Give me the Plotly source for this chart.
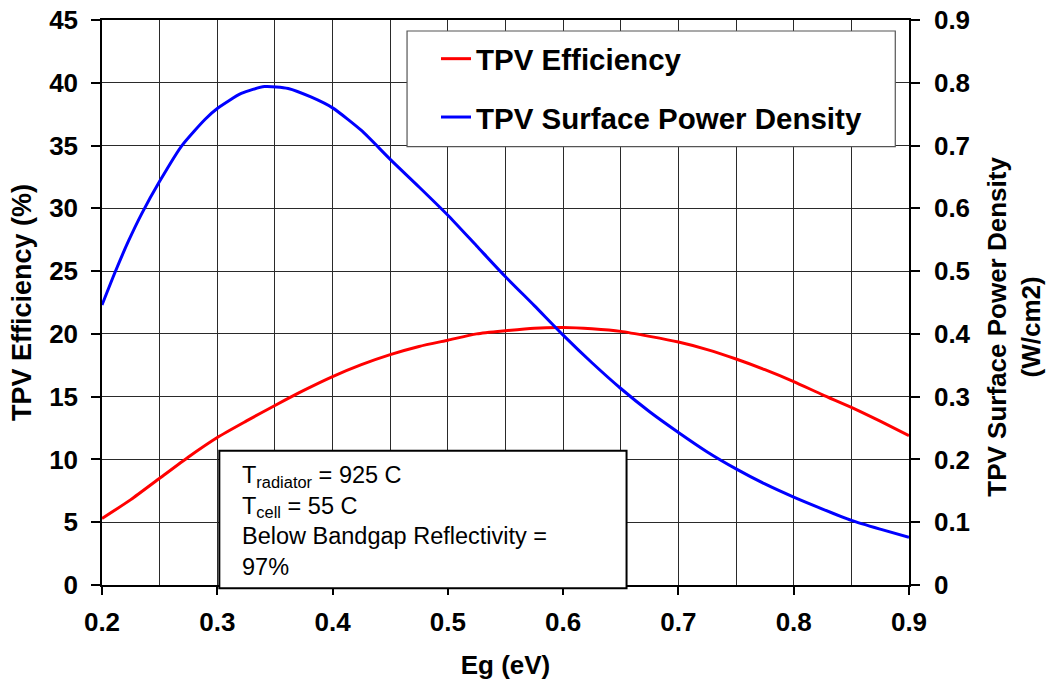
import plotly.graph_objects as go

# ---- data ----
eg = [0.2, 0.225, 0.25, 0.275, 0.3, 0.325, 0.35, 0.375, 0.4, 0.425, 0.45, 0.475,
      0.5, 0.525, 0.55, 0.575, 0.6, 0.625, 0.65, 0.675, 0.7, 0.725, 0.75, 0.775,
      0.8, 0.825, 0.85, 0.875, 0.9]
efficiency = [5.3, 6.8, 8.5, 10.2, 11.75, 13.05, 14.3, 15.5, 16.6, 17.55, 18.35, 19.0,
              19.5, 20.0, 20.25, 20.45, 20.5, 20.4, 20.2, 19.8, 19.35, 18.75, 18.0, 17.15,
              16.2, 15.15, 14.15, 13.05, 11.9]
eg_power = [0.2, 0.2115, 0.223, 0.2346, 0.25, 0.2693, 0.2895, 0.3, 0.3208, 0.341, 0.3615,
            0.3817, 0.4, 0.425, 0.45, 0.475, 0.5, 0.525, 0.55, 0.575, 0.6, 0.625, 0.65,
            0.675, 0.7, 0.725, 0.75, 0.775, 0.8, 0.825, 0.85, 0.875, 0.9]
power_density = [0.446, 0.499, 0.548, 0.592, 0.643, 0.700, 0.742, 0.759, 0.783, 0.794, 0.791,
                 0.777, 0.760, 0.724, 0.678, 0.634, 0.589, 0.540, 0.491, 0.445, 0.398, 0.354,
                 0.313, 0.276, 0.243, 0.212, 0.185, 0.161, 0.140, 0.121, 0.103, 0.089, 0.076]

x_ticks = [0.2, 0.3, 0.4, 0.5, 0.6, 0.7, 0.8, 0.9]
x_labels = ["0.2", "0.3", "0.4", "0.5", "0.6", "0.7", "0.8", "0.9"]
y1_ticks = [0, 5, 10, 15, 20, 25, 30, 35, 40, 45]
y1_labels = ["0", "5", "10", "15", "20", "25", "30", "35", "40", "45"]
y2_ticks = [0, 0.1, 0.2, 0.3, 0.4, 0.5, 0.6, 0.7, 0.8, 0.9]
y2_labels = ["0", "0.1", "0.2", "0.3", "0.4", "0.5", "0.6", "0.7", "0.8", "0.9"]

FONT = "Liberation Sans, Arial, sans-serif"
GRID = "#2a2a2a"
TICKFONT = dict(size=26, family=FONT, color="black", weight="bold")

fig = go.Figure()
fig.add_trace(go.Scatter(x=eg, y=efficiency, mode="lines", name="<b>TPV Efficiency</b>",
                         line=dict(color="#FF0000", width=3, shape="spline", smoothing=0.6),
                         legendgroup="a", yaxis="y"))
fig.add_trace(go.Scatter(x=eg_power, y=power_density, mode="lines",
                         name="<b>TPV Surface Power Density</b>",
                         line=dict(color="#0000FF", width=3, shape="spline", smoothing=0.6),
                         legendgroup="b", yaxis="y2"))

fig.update_layout(
    width=1052, height=683,
    margin=dict(l=102, r=143, t=20, b=98, autoexpand=False),
    paper_bgcolor="white", plot_bgcolor="white",
    font=dict(family=FONT, color="black"),
    showlegend=True,
    legend=dict(x=0.4139, y=0.977, xanchor="left", yanchor="top",
                bgcolor="rgba(0,0,0,0)", borderwidth=0,
                font=dict(size=29.5, family=FONT, color="black"),
                traceorder="grouped", tracegroupgap=17),
    xaxis=dict(range=[0.2, 0.9], tickvals=x_ticks, ticktext=x_labels, automargin=False,
               ticks="outside", ticklen=8, tickwidth=1.5, tickcolor="black",
               showline=True, linecolor="black", linewidth=1.5, mirror=True,
               showgrid=True, gridcolor=GRID, gridwidth=1,
               minor=dict(dtick=0.05, tick0=0.2, showgrid=True, gridcolor=GRID, gridwidth=1),
               tickfont=TICKFONT, ticklabelstandoff=5,
               title=dict(text="<b>Eg (eV)</b>", font=dict(size=26, family=FONT), standoff=20),
               zeroline=False),
    yaxis=dict(range=[0, 45], tickvals=y1_ticks, ticktext=y1_labels, automargin=False,
               ticks="outside", ticklen=9, tickwidth=1.5, tickcolor="black",
               showline=True, linecolor="black", linewidth=1.5,
               showgrid=True, gridcolor=GRID, gridwidth=1,
               tickfont=TICKFONT, ticklabelstandoff=8,
               title=dict(text="<b>TPV Efficiency (%)</b>", font=dict(size=27, family=FONT), standoff=10),
               zeroline=False),
    yaxis2=dict(range=[0, 0.9], tickvals=y2_ticks, ticktext=y2_labels, overlaying="y", side="right",
                automargin=False,
                ticks="outside", ticklen=9, tickwidth=1.5, tickcolor="black",
                showline=True, linecolor="black", linewidth=1.5,
                showgrid=False, zeroline=False,
                tickfont=TICKFONT, ticklabelstandoff=9),
)

# legend frame
fig.add_shape(type="rect", xref="paper", yref="paper", x0=0.378, x1=0.983, y0=0.7758, y1=0.9805,
              line=dict(color="#555555", width=1.2), fillcolor="white", layer="above")
# note box
fig.add_shape(type="rect", xref="paper", yref="paper", x0=0.1454, x1=0.650, y0=-0.0058, y1=0.2377,
              line=dict(color="black", width=2), fillcolor="white", layer="above")
fig.add_annotation(xref="paper", yref="paper", x=0.171, y=0.222, xanchor="left", yanchor="top",
                   align="left", showarrow=False,
                   text="T<sub>radiator</sub> = 925 C<br>T<sub>cell</sub> = 55 C<br>"
                        "Below Bandgap Reflectivity =<br>97%",
                   font=dict(size=23.5, family=FONT, color="black"))
# right axis title
fig.add_annotation(xref="paper", yref="paper", x=1.130, y=0.457, xanchor="center", yanchor="middle",
                   textangle=-90, showarrow=False,
                   text="<b>TPV Surface Power Density<br>(W/cm2)</b>",
                   font=dict(size=26, family=FONT, color="black"))

fig.write_html("out.html")
